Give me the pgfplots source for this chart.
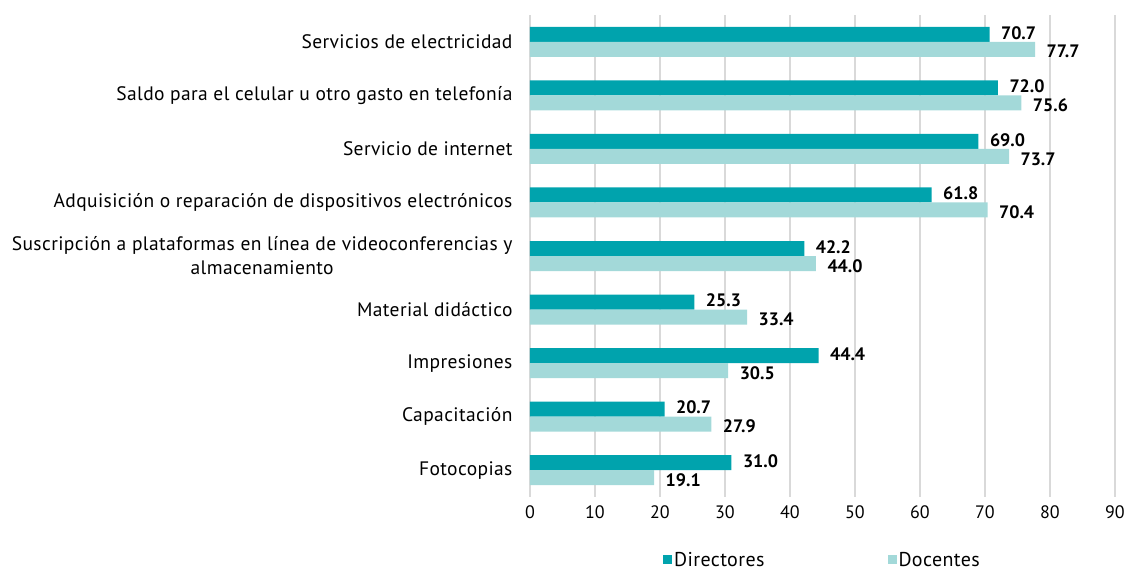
\documentclass[border=0pt]{standalone}
\usepackage{pgfplots}
\pgfplotsset{compat=1.18}
\usepackage{fontspec}
\setmainfont{PT Sans}
\newfontfamily\lblfont{PT Sans}[LetterSpace=2]
\definecolor{dirc}{HTML}{00A3AD}
\definecolor{docc}{HTML}{A3D9D9}
\definecolor{gridc}{HTML}{D9D9D9}
\pgfplotstableread{
idx dir doc
0 70.7 77.7
1 72.0 75.6
2 69.0 73.7
3 61.8 70.4
4 42.2 44.0
5 25.3 33.4
6 44.4 30.5
7 20.7 27.9
8 31.0 19.1
}\datatable
\begin{document}
\begin{tikzpicture}
\useasboundingbox (-530pt,-76pt) rectangle (594pt,497pt);
\begin{axis}[
  at={(0pt,0pt)}, anchor=south west,
  scale only axis, width=585pt, height=482pt,
  xbar, bar width=15pt,
  /pgf/number format/assume math mode=true,
  xmin=0, xmax=90, xtick={0,10,...,90},
  ymin=-0.5, ymax=8.5, y dir=reverse,
  ytick={0,...,8},
  yticklabels={Servicios de electricidad,
    Saldo para el celular u otro gasto en telefonía,
    Servicio de internet,
    Adquisición o reparación de dispositivos electrónicos,
    {Suscripción a plataformas en línea de videoconferencias y\\almacenamiento},
    Material didáctico, Impresiones, Capacitación, Fotocopias},
  yticklabel style={align=center, font=\lblfont\fontsize{19.5}{24}\selectfont, xshift=-14pt},
  xticklabel style={font=\fontsize{18}{20}\selectfont, yshift=-5pt},
  axis line style={draw=none},
  major tick length=0pt,
  xmajorgrids, grid style={gridc, line width=1.6pt},
  nodes near coords={\pgfmathprintnumber[fixed,fixed zerofill,precision=1]{\pgfplotspointmeta}},
  nodes near coords style={font=\bfseries\fontsize{18}{20}\selectfont, anchor=west, xshift=8pt},
  point meta=explicit,
  legend style={draw=none, at={(0.5,-0.13)}, anchor=center, legend columns=2,
    font=\lblfont\fontsize{20}{22}\selectfont,
    /tikz/every even column/.append style={column sep=121pt}},
  legend image code/.code={\fill[#1] (-3pt,-4.5pt) rectangle (6pt,4.5pt);},
]
\addplot[draw=none, fill=dirc, bar shift=7.5pt,
  nodes near coords style={yshift=1.5pt}] table[x=dir, y=idx, meta=dir] {\datatable};
\addplot[draw=none, fill=docc, bar shift=-7.5pt,
  nodes near coords style={yshift=-2.5pt}] table[x=doc, y=idx, meta=doc] {\datatable};
\legend{Directores, Docentes}
\end{axis}
\end{tikzpicture}
\end{document}
